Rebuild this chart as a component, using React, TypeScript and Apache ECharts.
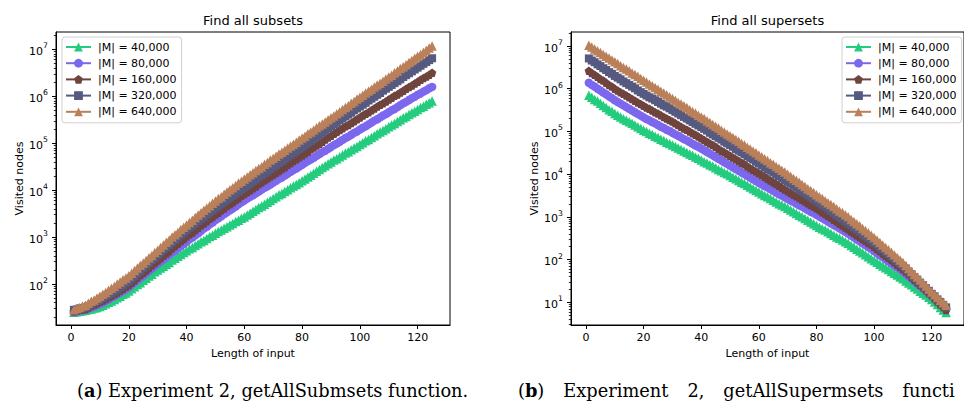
import { useEffect, useRef } from 'react';
import * as echarts from 'echarts';

// ---------------- data ----------------
const inputLengthStart = 1; // x values are 1, 2, ..., 125

const seriesNames = ['|M| = 40,000', '|M| = 80,000', '|M| = 160,000', '|M| = 320,000', '|M| = 640,000'];

// Find all subsets: visited nodes per input length
const subsets40k = [
  25.1, 25.7, 26.3, 26.9, 27.5, 28.8, 29.5, 30.9, 31.6, 33.1,
  35.5, 38.0, 40.7, 43.7, 46.8, 51.3, 55.0, 60.3, 64.6, 70.8,
  79.4, 87.1, 97.7, 107, 120, 132, 148, 162, 182, 200,
  219, 240, 263, 288, 324, 355, 389, 427, 468, 513,
  562, 603, 661, 724, 794, 851, 933, 1023, 1096, 1202,
  1318, 1413, 1549, 1660, 1820, 1950, 2138, 2291, 2512, 2692,
  2951, 3236, 3548, 3890, 4266, 4571, 5012, 5495, 6026, 6607,
  7244, 7943, 8511, 9333, 10230, 11220, 12300, 13180, 14450, 15850,
  17380, 19050, 20890, 22910, 25120, 27540, 30200, 33110, 36310, 39810,
  43650, 46770, 51290, 56230, 61660, 66070, 72440, 79430, 85110, 93330,
  102300, 112200, 120200, 131800, 144500, 158500, 173800, 186200, 204200, 223900,
  245500, 263000, 288400, 316200, 346700, 371500, 407400, 446700, 478600, 524800,
  575400, 616600, 676100, 724400, 794300,
];
const subsets80k = [
  25.1, 25.7, 26.9, 27.5, 28.2, 29.5, 31.6, 33.1, 35.5, 37.2,
  39.8, 43.7, 46.8, 51.3, 55.0, 60.3, 66.1, 70.8, 77.6, 85.1,
  95.5, 107, 120, 135, 151, 170, 191, 214, 240, 269,
  302, 331, 372, 417, 468, 513, 575, 646, 708, 794,
  891, 977, 1096, 1202, 1349, 1514, 1660, 1862, 2042, 2291,
  2512, 2754, 3090, 3388, 3715, 4074, 4467, 5012, 5495, 6026,
  6607, 7244, 7762, 8511, 9333, 10230, 11220, 12020, 13180, 14450,
  15850, 17380, 18620, 20420, 22390, 24550, 26920, 28840, 31620, 34670,
  38020, 41690, 44670, 48980, 53700, 58880, 64570, 69180, 75860, 83180,
  91200, 97720, 107200, 117500, 128800, 138000, 151400, 166000, 177800, 195000,
  213800, 229100, 251200, 275400, 302000, 323600, 354800, 389000, 416900, 457100,
  501200, 537000, 588800, 645700, 707900, 758600, 831800, 912000, 977200, 1072000,
  1148000, 1259000, 1349000, 1479000, 1585000,
];
const subsets160k = [
  26.3, 26.9, 28.2, 28.8, 29.5, 31.6, 33.9, 36.3, 38.9, 41.7,
  44.7, 47.9, 52.5, 56.2, 60.3, 66.1, 72.4, 79.4, 87.1, 95.5,
  107, 120, 138, 155, 174, 195, 219, 251, 282, 316,
  355, 398, 447, 501, 575, 646, 724, 813, 912, 1023,
  1148, 1259, 1413, 1585, 1778, 1950, 2188, 2455, 2692, 3020,
  3311, 3715, 4074, 4571, 5012, 5495, 6166, 6761, 7586, 8318,
  9120, 10000, 10960, 12020, 13490, 14790, 16220, 17780, 19500, 21380,
  23440, 25700, 28180, 30900, 34670, 38020, 41690, 45710, 50120, 54950,
  60260, 66070, 74130, 81280, 89130, 97720, 107200, 120200, 131800, 144500,
  158500, 173800, 190500, 208900, 229100, 245500, 269200, 295100, 323600, 354800,
  389000, 426600, 457100, 501200, 549500, 602600, 660700, 707900, 776200, 851100,
  933300, 1023000, 1096000, 1202000, 1318000, 1445000, 1585000, 1698000, 1862000, 2042000,
  2239000, 2455000, 2630000, 2884000, 3162000,
];
const subsets320k = [
  28.2, 28.8, 30.2, 30.9, 31.6, 33.9, 36.3, 39.8, 42.7, 45.7,
  50.1, 53.7, 58.9, 63.1, 69.2, 75.9, 85.1, 93.3, 105, 115,
  132, 148, 170, 191, 219, 251, 282, 324, 363, 417,
  468, 537, 603, 676, 776, 871, 977, 1096, 1259, 1413,
  1585, 1738, 1950, 2188, 2455, 2692, 3020, 3388, 3715, 4169,
  4571, 5129, 5623, 6310, 6918, 7586, 8511, 9333, 10470, 11480,
  12590, 14130, 15490, 16980, 19050, 20890, 22910, 25120, 28180, 30900,
  33880, 38020, 41690, 45710, 51290, 56230, 61660, 67610, 75860, 83180,
  91200, 102300, 112200, 125900, 138000, 151400, 169800, 186200, 208900, 229100,
  251200, 275400, 309000, 338800, 371500, 407400, 446700, 501200, 549500, 602600,
  660700, 724400, 812800, 891300, 977200, 1072000, 1175000, 1318000, 1445000, 1585000,
  1738000, 1905000, 2089000, 2291000, 2570000, 2818000, 3090000, 3388000, 3715000, 4074000,
  4467000, 4898000, 5370000, 5888000, 6457000,
];
const subsets640k = [
  28.2, 30.2, 31.6, 33.9, 35.5, 38.9, 42.7, 45.7, 50.1, 55.0,
  60.3, 66.1, 74.1, 81.3, 89.1, 100, 110, 123, 135, 151,
  170, 195, 219, 251, 282, 316, 363, 407, 468, 525,
  603, 676, 776, 871, 1000, 1122, 1259, 1445, 1622, 1820,
  2042, 2291, 2630, 2951, 3311, 3715, 4169, 4677, 5248, 5888,
  6607, 7244, 8128, 9120, 10230, 11220, 12590, 14130, 15490, 17380,
  19050, 21380, 23440, 26300, 28840, 31620, 35480, 38900, 43650, 47860,
  52480, 58880, 64570, 70790, 79430, 87100, 95500, 104700, 117500, 128800,
  141300, 158500, 173800, 190500, 213800, 234400, 257000, 281800, 316200, 346700,
  380200, 426600, 467700, 524800, 575400, 631000, 707900, 776200, 871000, 955000,
  1047000, 1175000, 1288000, 1413000, 1585000, 1738000, 1905000, 2089000, 2344000, 2570000,
  2818000, 3162000, 3467000, 3890000, 4266000, 4677000, 5248000, 5754000, 6457000, 7079000,
  7762000, 8710000, 9550000, 10720000, 11750000,
];

// Find all supersets: visited nodes per input length
const supersets40k = [
  708000, 631000, 562300, 512900, 457100, 407400, 363100, 323600, 295100, 263000,
  239900, 218800, 199500, 182000, 169800, 154900, 141300, 128800, 117500, 107200,
  100000, 91200, 85110, 77620, 72440, 66070, 61660, 56230, 52480, 47860,
  44670, 40740, 38020, 34670, 32360, 29510, 27540, 25120, 23440, 21380,
  19500, 18200, 16600, 15490, 14130, 12880, 12020, 10960, 10230, 9333,
  8511, 7762, 7079, 6457, 6026, 5495, 5012, 4571, 4169, 3802,
  3467, 3162, 2951, 2692, 2455, 2239, 2042, 1905, 1738, 1585,
  1445, 1318, 1202, 1096, 1000, 912, 832, 759, 692, 631,
  575, 525, 490, 447, 407, 372, 339, 316, 288, 263,
  240, 214, 195, 174, 158, 145, 129, 117, 105, 95.5,
  87.1, 77.6, 70.8, 64.6, 58.9, 52.5, 47.9, 43.7, 38.9, 35.5,
  31.6, 28.2, 25.7, 22.9, 20.4, 18.2, 16.2, 14.8, 13.2, 11.7,
  10.2, 8.9, 7.6, 6.6, 5.8,
];
const supersets80k = [
  1380000, 1230000, 1122000, 1000000, 912000, 813000, 741000, 661000, 603000, 537000,
  490000, 447000, 407000, 372000, 339000, 309000, 282000, 257000, 234000, 214000,
  195000, 182000, 166000, 155000, 141300, 128800, 120200, 109600, 102300, 93300,
  85100, 79400, 72400, 66100, 61700, 56200, 51300, 46800, 43700, 39800,
  36300, 33100, 30200, 27500, 25100, 22900, 20900, 19050, 17380, 15850,
  14450, 13180, 12020, 10960, 10000, 9120, 8318, 7586, 6918, 6310,
  5754, 5248, 4898, 4467, 4074, 3715, 3388, 3162, 2884, 2630,
  2399, 2239, 2042, 1862, 1738, 1585, 1445, 1318, 1230, 1122,
  1023, 933, 851, 776, 708, 646, 589, 537, 490, 447,
  407, 363, 331, 295, 269, 240, 219, 195, 178, 158,
  141, 126, 115, 102, 91.2, 81.3, 72.4, 66.1, 58.9, 52.5,
  45.7, 40.7, 35.5, 30.9, 27.5, 24.0, 20.9, 18.2, 16.2, 14.1,
  12.3, 10.7, 9.5, 8.3, 7.2,
];
const supersets160k = [
  2630000, 2344000, 2138000, 1905000, 1698000, 1549000, 1380000, 1230000, 1122000, 1000000,
  912000, 832000, 759000, 692000, 631000, 575000, 525000, 479000, 437000, 398000,
  363000, 339000, 309000, 282000, 263000, 240000, 219000, 200000, 186000, 170000,
  155000, 141000, 129000, 117500, 109600, 100000, 91200, 83200, 75900, 69200,
  63100, 57500, 52500, 47900, 43700, 38900, 35500, 32400, 29500, 26900,
  24500, 22400, 20400, 18620, 16980, 15140, 13800, 12590, 11480, 10470,
  9550, 8710, 7762, 7079, 6457, 5888, 5370, 4786, 4365, 3981,
  3631, 3311, 3020, 2754, 2512, 2291, 2089, 1905, 1738, 1585,
  1445, 1288, 1175, 1047, 955, 851, 776, 692, 631, 562,
  513, 457, 417, 372, 339, 302, 275, 245, 224, 200,
  178, 158, 138, 123, 110, 97.7, 87.1, 75.9, 67.6, 60.3,
  52.5, 45.7, 38.9, 33.9, 29.5, 25.7, 22.4, 19.1, 16.6, 14.5,
  12.3, 10.5, 8.9, 7.8, 6.6,
];
const supersets320k = [
  5130000, 4570000, 4170000, 3720000, 3390000, 3020000, 2750000, 2450000, 2240000, 1995000,
  1820000, 1660000, 1479000, 1349000, 1230000, 1122000, 1023000, 912000, 832000, 759000,
  692000, 631000, 589000, 537000, 490000, 447000, 407000, 380000, 347000, 316000,
  288000, 263000, 240000, 219000, 200000, 182000, 166000, 151000, 138000, 126000,
  115000, 105000, 93300, 85100, 77600, 70800, 64600, 57500, 52500, 47900,
  43700, 38900, 35500, 32400, 29500, 26300, 24000, 21900, 19500, 17800,
  16200, 14450, 13180, 12020, 10960, 9772, 8913, 8128, 7244, 6607,
  6026, 5370, 4898, 4365, 3981, 3631, 3236, 2951, 2630, 2399,
  2138, 1905, 1738, 1549, 1380, 1230, 1096, 1000, 891, 794,
  708, 631, 562, 501, 447, 398, 355, 316, 282, 251,
  224, 195, 174, 151, 135, 117, 105, 91.2, 81.3, 70.8,
  61.7, 52.5, 45.7, 38.9, 33.9, 28.8, 25.1, 21.4, 18.6, 15.8,
  13.8, 11.7, 10.2, 8.7, 7.6,
];
const supersets640k = [
  10470000, 9550000, 8510000, 7760000, 7080000, 6310000, 5750000, 5250000, 4680000, 4270000,
  3890000, 3470000, 3160000, 2880000, 2630000, 2340000, 2140000, 1950000, 1738000, 1585000,
  1445000, 1288000, 1175000, 1072000, 977000, 871000, 794000, 724000, 646000, 589000,
  537000, 479000, 437000, 398000, 363000, 324000, 295000, 269000, 240000, 219000,
  200000, 178000, 162000, 145000, 132000, 120000, 107000, 97700, 87100, 79400,
  72400, 64600, 58900, 52500, 47900, 42700, 38900, 34700, 31600, 28200,
  25700, 22900, 20900, 18600, 17000, 15100, 13800, 12300, 11200, 10000,
  8913, 7943, 7244, 6457, 5754, 5129, 4571, 4169, 3715, 3311,
  2951, 2692, 2399, 2138, 1950, 1738, 1549, 1380, 1259, 1122,
  1000, 871, 776, 692, 617, 537, 479, 427, 372, 331,
  288, 251, 219, 191, 170, 148, 129, 112, 97.7, 85.1,
  72.4, 61.7, 52.5, 44.7, 38.9, 33.1, 28.2, 24.0, 20.4, 17.4,
  15.1, 13.2, 11.2, 9.8, 8.5,
];

const xTickValues = [0, 20, 40, 60, 80, 100, 120];
const subsetsYTickValues = [1e2, 1e3, 1e4, 1e5, 1e6, 1e7];
const supersetsYTickValues = [1e1, 1e2, 1e3, 1e4, 1e5, 1e6, 1e7];

const chartTitles = ['Find all subsets', 'Find all supersets'];
const xAxisName = 'Length of input';
const yAxisName = 'Visited nodes';
const captionLetters = ['a', 'b'];
// the right caption is cut by the picture's edge in the reference: only "functi" is visible
const captionWords = [
  ['Experiment', '2,', 'getAllSubmsets', 'function.'],
  ['Experiment', '2,', 'getAllSupermsets', 'functi'],
];

// ---------------- styles ----------------
const SANS = 'DejaVu Sans';
const SERIF = 'DejaVu Serif';
const COLORS = ['#24cc7e', '#7b68ee', '#70443e', '#565a80', '#b9805a'];
const PENTAGON = 'path://M0,-1L0.951,-0.309L0.588,0.809L-0.588,0.809L-0.951,-0.309Z';
const SYMBOLS = ['triangle', 'circle', PENTAGON, 'rect', 'triangle'];
const SYMBOL_SIZES = [9.5, 8.5, 8.5, 8, 9.5];

const X_MIN = -5.2;
const X_MAX = 131.2;
const SUB_Y = [13.4, 2.34e7];
const SUP_Y = [2.94, 2.13e7];

function minorTicks(lo: number, hi: number) {
  const out: number[] = [];
  for (let e = 0; e <= 8; e++) {
    for (let m = 2; m <= 9; m++) {
      const v = m * Math.pow(10, e);
      if (v >= lo && v <= hi) out.push(v);
    }
  }
  return out;
}

const supFormatter = (v: number) => '{b|10}{s|' + Math.round(Math.log10(v)) + '}';

function xAxis(gridIndex: number) {
  return {
    type: 'value',
    gridIndex,
    position: 'bottom',
    min: X_MIN,
    max: X_MAX,
    name: xAxisName,
    nameLocation: 'middle',
    nameGap: 20,
    nameTextStyle: { fontSize: 11, fontFamily: SANS, color: '#000' },
    axisLine: { show: true, onZero: false, lineStyle: { color: '#000', width: 1 } },
    axisTick: { show: true, customValues: xTickValues, length: 4, lineStyle: { color: '#000', width: 1 } },
    axisLabel: { customValues: xTickValues, margin: 7, fontSize: 11, fontFamily: SANS, color: '#000' },
    splitLine: { show: false },
  };
}

function yAxes(gridIndex: number, range: number[], majors: number[]) {
  return [
    {
      type: 'log',
      gridIndex,
      position: 'left',
      min: range[0],
      max: range[1],
      name: yAxisName,
      nameLocation: 'middle',
      nameGap: 30,
      nameTextStyle: { fontSize: 11, fontFamily: SANS, color: '#000' },
      axisLine: { show: true, onZero: false, lineStyle: { color: '#000', width: 1 } },
      axisTick: { show: true, customValues: majors, length: 4, lineStyle: { color: '#000', width: 1 } },
      axisLabel: {
        customValues: majors,
        margin: 8,
        formatter: supFormatter,
        rich: {
          b: { fontSize: 11, fontFamily: SANS, color: '#000', lineHeight: 15, verticalAlign: 'bottom' },
          s: { fontSize: 7.7, fontFamily: SANS, color: '#000', lineHeight: 9, verticalAlign: 'top' },
        },
      },
      splitLine: { show: false },
    },
    {
      type: 'log',
      gridIndex,
      position: 'left',
      offset: 0,
      min: range[0],
      max: range[1],
      axisLine: { show: false, onZero: false },
      axisTick: { show: true, customValues: minorTicks(range[0], range[1]), length: 2.2, lineStyle: { color: '#000', width: 0.8 } },
      axisLabel: { show: false },
      splitLine: { show: false },
    },
  ];
}

function legend(left: number) {
  return {
    left,
    top: 37,
    orient: 'vertical',
    data: seriesNames,
    selectedMode: false,
    itemWidth: 25,
    itemHeight: 11,
    itemGap: 5.2,
    padding: [4.5, 5, 5.5, 3],
    borderColor: '#d0d0d0',
    borderWidth: 1,
    borderRadius: 3,
    backgroundColor: 'rgba(255,255,255,0.8)',
    textStyle: { fontSize: 11, fontFamily: SANS, color: '#000', lineHeight: 11, padding: [0, 0, 0, 2] },
  };
}

function lineSeries(values: number[], i: number, xAxisIndex: number, yAxisIndex: number) {
  return {
    type: 'line',
    name: seriesNames[i],
    xAxisIndex,
    yAxisIndex,
    data: values.map((v, k) => [inputLengthStart + k, v]),
    symbol: SYMBOLS[i],
    symbolSize: SYMBOL_SIZES[i],
    showSymbol: true,
    showAllSymbol: true,
    color: COLORS[i],
    lineStyle: { color: COLORS[i], width: 1.7 },
    itemStyle: { color: COLORS[i], borderWidth: 0 },
    emphasis: { disabled: true },
    silent: true,
  };
}

// spaceWidth: undefined = natural spacing; a number = justified (stretched) spacing
function captionText(x: number, idx: number, spaceWidth?: number) {
  const sp = '{sp| }';
  const text =
    '{n|(}{b|' + captionLetters[idx] + '}{n|)}' + sp +
    captionWords[idx].map((w) => '{n|' + w + '}').join(sp);
  const base = { fontSize: 17.8, fontFamily: SERIF, fill: '#000', color: '#000' };
  const spStyle: any = { ...base };
  if (spaceWidth !== undefined) spStyle.width = spaceWidth;
  return {
    type: 'text',
    x,
    y: 390,
    style: {
      text,
      verticalAlign: 'middle',
      textVerticalAlign: 'middle',
      rich: {
        n: base,
        b: { ...base, fontWeight: 'bold' },
        sp: spStyle,
      },
    },
  };
}

function titleText(x: number, text: string) {
  return {
    type: 'text',
    x,
    y: 20,
    style: {
      text,
      fontSize: 13,
      fontFamily: SANS,
      fill: '#000',
      align: 'center',
      textAlign: 'center',
      verticalAlign: 'middle',
      textVerticalAlign: 'middle',
    },
  };
}

export default function App() {
  const ref = useRef<HTMLDivElement>(null);

  useEffect(() => {
    if (!ref.current) return;
    const chart = echarts.init(ref.current, undefined, { renderer: 'svg' });
    const subsetSeries = [subsets40k, subsets80k, subsets160k, subsets320k, subsets640k];
    const supersetSeries = [supersets40k, supersets80k, supersets160k, supersets320k, supersets640k];

    const option: any = {
      animation: false,
      backgroundColor: '#ffffff',
      grid: [
        { left: 56, top: 32, width: 394, height: 293, show: true, borderColor: '#000', borderWidth: 1, backgroundColor: 'transparent' },
        { left: 571, top: 32, width: 394, height: 293, show: true, borderColor: '#000', borderWidth: 1, backgroundColor: 'transparent' },
      ],
      xAxis: [xAxis(0), xAxis(1)],
      yAxis: [...yAxes(0, SUB_Y, subsetsYTickValues), ...yAxes(1, SUP_Y, supersetsYTickValues)],
      legend: [legend(62), legend(842)],
      series: [
        ...subsetSeries.map((vals, i) => lineSeries(vals, i, 0, 0)),
        ...supersetSeries.map((vals, i) => lineSeries(vals, i, 1, 2)),
      ],
      graphic: [
        titleText(253, chartTitles[0]),
        titleText(767.5, chartTitles[1]),
        captionText(77, 0),
        captionText(518, 1, 19),
      ],
    };
    chart.setOption(option);
    return () => chart.dispose();
  }, []);

  return (
    <div
      ref={ref}
      style={{ position: 'absolute', left: 0, top: 0, width: 964, height: 414, overflow: 'hidden', background: '#fff' }}
    />
  );
}
